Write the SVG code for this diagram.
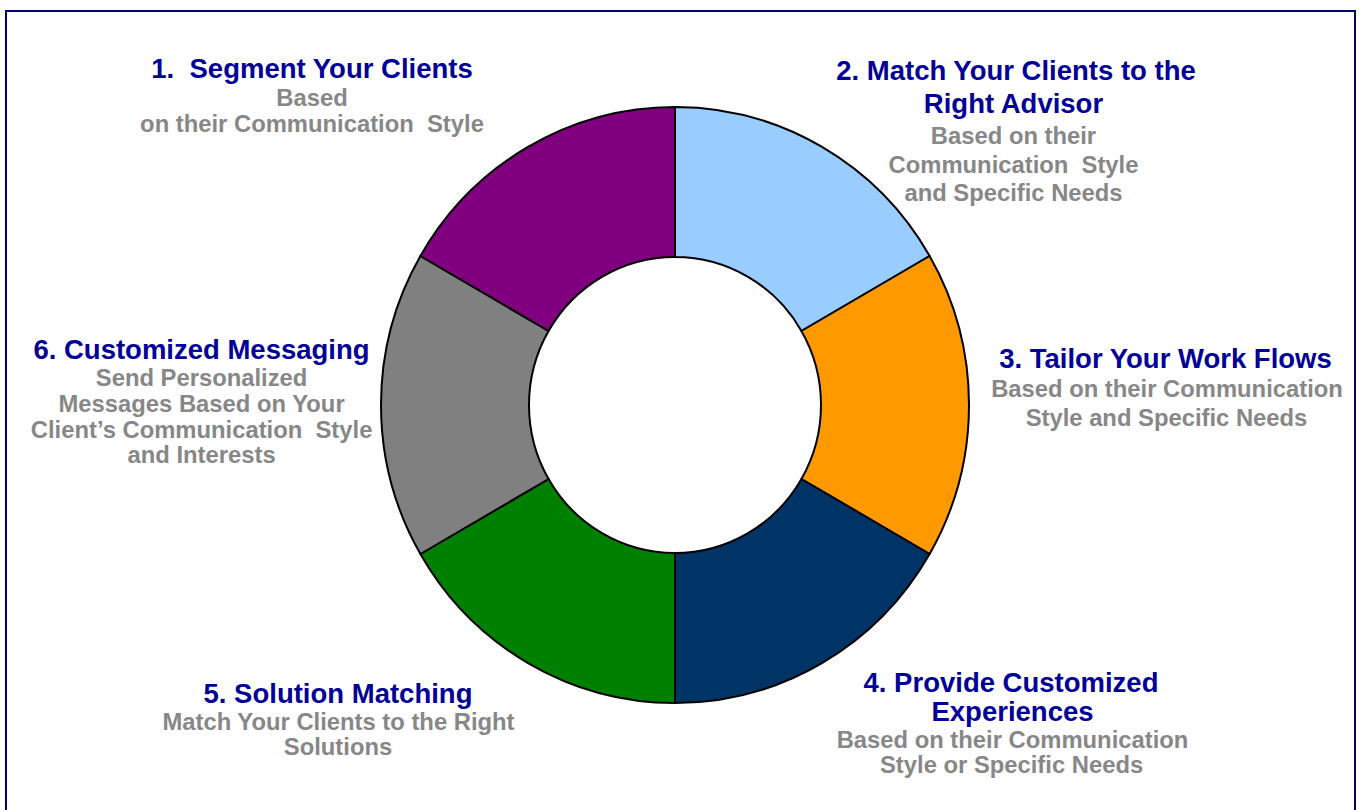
<svg xmlns="http://www.w3.org/2000/svg" width="1361" height="810" viewBox="0 0 1361 810">
<style>
.t{font-family:"Liberation Sans",Arial,sans-serif;font-weight:bold;font-size:27.5px;fill:#000099;text-anchor:middle}
.s{font-family:"Liberation Sans",Arial,sans-serif;font-weight:bold;font-size:23.8px;fill:#878787;text-anchor:middle}
.seg{stroke:#000;stroke-width:2;stroke-linejoin:round}
</style>
<rect x="0" y="0" width="1361" height="810" fill="#fff"/>
<rect x="6" y="11" width="1349" height="810" fill="none" stroke="#000066" stroke-width="2"/>
<g id="donut">
<path id="seg2" class="seg" fill="#99CCFF" d="M675,107 A294,298 0 0 1 929.61,256 L801.44,331 A146,148 0 0 0 675,257 Z"/>
<path id="seg3" class="seg" fill="#FF9900" d="M929.61,256 A294,298 0 0 1 929.61,554 L801.44,479 A146,148 0 0 0 801.44,331 Z"/>
<path id="seg4" class="seg" fill="#003366" d="M929.61,554 A294,298 0 0 1 675,703 L675,553 A146,148 0 0 0 801.44,479 Z"/>
<path id="seg5" class="seg" fill="#008000" d="M675,703 A294,298 0 0 1 420.39,554 L548.56,479 A146,148 0 0 0 675,553 Z"/>
<path id="seg6" class="seg" fill="#808080" d="M420.39,554 A294,298 0 0 1 420.39,256 L548.56,331 A146,148 0 0 0 548.56,479 Z"/>
<path id="seg1" class="seg" fill="#800080" d="M420.39,256 A294,298 0 0 1 675,107 L675,257 A146,148 0 0 0 548.56,331 Z"/>
</g>
<g id="label1">
<text class="t" x="312" y="78" xml:space="preserve">1.  Segment Your Clients</text>
<text class="s" x="312" y="106">Based</text>
<text class="s" x="312" y="131.7" xml:space="preserve">on their Communication  Style</text>
</g>
<g id="label2">
<text class="t" x="1016" y="80">2. Match Your Clients to the</text>
<text class="t" x="1013.5" y="113">Right Advisor</text>
<text class="s" x="1013.5" y="144">Based on their</text>
<text class="s" x="1013.5" y="172.7" xml:space="preserve">Communication  Style</text>
<text class="s" x="1013.5" y="201">and Specific Needs</text>
</g>
<g id="label3">
<text class="t" x="1165.5" y="367.5">3. Tailor Your Work Flows</text>
<text class="s" x="1167" y="397">Based on their Communication</text>
<text class="s" x="1166.5" y="425.5">Style and Specific Needs</text>
</g>
<g id="label4">
<text class="t" x="1011" y="691.7">4. Provide Customized</text>
<text class="t" x="1012.5" y="720.7">Experiences</text>
<text class="s" x="1012.5" y="748.3">Based on their Communication</text>
<text class="s" x="1011.6" y="772.7">Style or Specific Needs</text>
</g>
<g id="label5">
<text class="t" x="338" y="702.7">5. Solution Matching</text>
<text class="s" x="338.5" y="730">Match Your Clients to the Right</text>
<text class="s" x="338" y="755">Solutions</text>
</g>
<g id="label6">
<text class="t" x="201.5" y="359">6. Customized Messaging</text>
<text class="s" x="201.6" y="386">Send Personalized</text>
<text class="s" x="201.6" y="411.7">Messages Based on Your</text>
<text class="s" x="201.6" y="437.7" xml:space="preserve">Client’s Communication  Style</text>
<text class="s" x="201.6" y="463.3">and Interests</text>
</g>
<g id="connectors"></g>
</svg>
